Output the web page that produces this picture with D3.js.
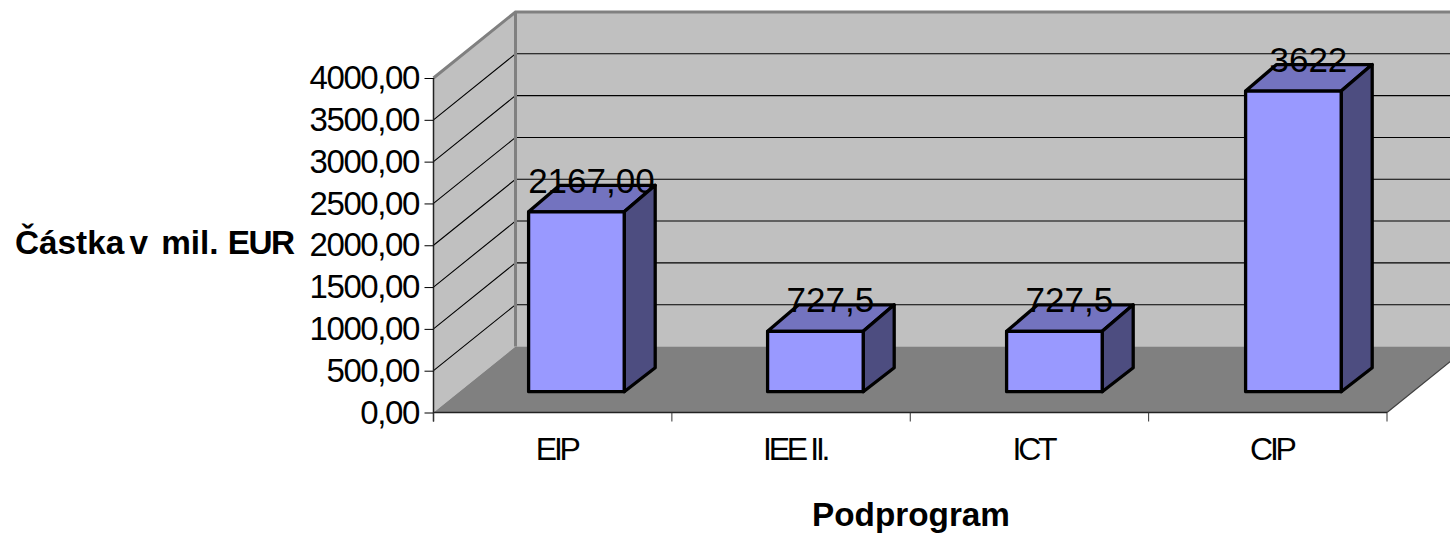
<!DOCTYPE html>
<html lang="en">

<head>
    <meta charset="UTF-8">
    <title>Podprogram</title>
    <script src="https://d3js.org/d3.v7.min.js"></script>
    <style>
        body { margin: 0; background: #fff; }
        svg { display: block; }
        text { font-family: "Liberation Sans", Arial, sans-serif; fill: #000; }
        .y-axis .tick text { font-size: 33px; letter-spacing: -1.4px; }
        .x-axis .tick text { font-size: 32px; letter-spacing: -3.3px; }
        .axis-title { font-size: 33.3px; font-weight: bold; }
        .value { font-size: 35px; }
    </style>
</head>

<body>
    <svg id="chart" width="1450" height="534"></svg>

    <script>
        const categories = ["EIP", "IEE II.", "ICT", "CIP"];
        const barValues = [2167, 727.5, 727.5, 3622];
        const valueLabels = ["2167,00", "727,5", "727,5", "3622"];
        const yTicks = [0, 500, 1000, 1500, 2000, 2500, 3000, 3500, 4000];
        const yTickLabels = ["0,00", "500,00", "1000,00", "1500,00", "2000,00", "2500,00", "3000,00", "3500,00", "4000,00"];

        const svg = d3.select("#chart");

        // front plane of the 3d box
        const plotLeft = 433.5, plotRight = 1387, plotBottom = 412.5, plotTop = 78;
        // offset of the back wall
        const depthX = 82, depthY = -66;
        // bar depth, the top edge comes out a bit steeper than the bottom one
        const barDepthX = 31, barDepthTop = -26.5, barDepthBottom = -24;

        const x = d3.scaleBand().domain(categories).range([plotLeft, plotRight]);
        const y = d3.scaleLinear().domain([0, 4000]).range([plotBottom, plotTop]);
        // bars stand further back on the floor so they get their own scales
        const barX = d3.scaleBand().domain(categories).range([456.9, 1412.9]).paddingInner(0.6).paddingOuter(0.3);
        const barY = d3.scaleLinear().domain([0, 4000]).range([391.7, 59.7]);
        const line = d3.line();

        const yTop = y(4000), yBase = y(0);

        // back wall
        svg.append("path")
            .attr("d", line([[plotLeft + depthX, yBase + depthY], [plotRight + depthX, yBase + depthY], [plotRight + depthX, yTop + depthY], [plotLeft + depthX, yTop + depthY]]) + "Z")
            .attr("fill", "#c0c0c0");

        // side wall
        svg.append("path")
            .attr("d", line([[plotLeft, yBase], [plotLeft + depthX, yBase + depthY], [plotLeft + depthX, yTop + depthY], [plotLeft, yTop]]) + "Z")
            .attr("fill", "#c0c0c0");

        // floor
        svg.append("path")
            .attr("d", line([[plotLeft, yBase], [plotLeft + depthX, yBase + depthY], [plotRight + depthX, yBase + depthY], [plotRight, yBase]]) + "Z")
            .attr("fill", "#808080");

        // gridlines, skipping the floor and the top edge
        yTicks.filter(d => d > 0 && d < 4000).forEach(d => {
            svg.append("path")
                .attr("d", line([[plotLeft, y(d)], [plotLeft + depthX, y(d) + depthY], [plotRight + depthX, y(d) + depthY]]))
                .attr("fill", "none")
                .attr("stroke", "#000")
                .attr("stroke-width", 1.1);
        });

        // gray edges of the walls
        svg.append("path")
            .attr("d", line([[plotLeft, yTop], [plotLeft + depthX, yTop + depthY], [plotRight + depthX, yTop + depthY]]))
            .attr("fill", "none")
            .attr("stroke", "#808080")
            .attr("stroke-width", 3);
        svg.append("path")
            .attr("d", line([[plotLeft + depthX, yTop + depthY], [plotLeft + depthX, yBase + depthY]]))
            .attr("fill", "none")
            .attr("stroke", "#808080")
            .attr("stroke-width", 3);
        svg.append("path")
            .attr("d", line([[plotRight, yBase], [plotRight + depthX, yBase + depthY]]))
            .attr("fill", "none")
            .attr("stroke", "#404040")
            .attr("stroke-width", 1.2);

        // bars
        const bars = svg.append("g").selectAll("g")
            .data(categories.map((c, i) => ({ c, v: barValues[i], label: valueLabels[i] })))
            .enter().append("g")
            .attr("stroke", "#000")
            .attr("stroke-width", 3.3)
            .attr("stroke-linejoin", "round");

        const bx0 = d => barX(d.c);
        const bx1 = d => barX(d.c) + barX.bandwidth();
        const by0 = barY(0);
        const by1 = d => barY(d.v);

        bars.append("path")
            .attr("fill", "#7373bf")
            .attr("d", d => line([[bx0(d), by1(d)], [bx0(d) + barDepthX, by1(d) + barDepthTop], [bx1(d) + barDepthX, by1(d) + barDepthTop], [bx1(d), by1(d)]]) + "Z");
        bars.append("path")
            .attr("fill", "#4d4d80")
            .attr("d", d => line([[bx1(d), by1(d)], [bx1(d) + barDepthX, by1(d) + barDepthTop], [bx1(d) + barDepthX, by0 + barDepthBottom], [bx1(d), by0]]) + "Z");
        bars.append("path")
            .attr("fill", "#9999ff")
            .attr("d", d => line([[bx0(d), by1(d)], [bx1(d), by1(d)], [bx1(d), by0], [bx0(d), by0]]) + "Z");

        bars.append("text")
            .attr("class", "value")
            .attr("stroke", "none")
            .attr("text-anchor", "middle")
            .attr("x", d => (bx0(d) + bx1(d)) / 2 + 15)
            .attr("y", d => by1(d) - 19)
            .text(d => d.label);

        // value axis
        const yAxis = svg.append("g")
            .attr("class", "y-axis")
            .attr("transform", `translate(${plotLeft},0)`)
            .call(d3.axisLeft(y).tickValues(yTicks).tickSize(9).tickPadding(5.5)
                .tickFormat(d => yTickLabels[yTicks.indexOf(d)]));
        yAxis.attr("font-family", null).attr("font-size", null);
        yAxis.select(".domain").attr("d", `M0,${plotTop}V${plotBottom + 9}`).attr("stroke", "#222").attr("stroke-width", 1.5);
        yAxis.selectAll(".tick line").attr("stroke", "#000");

        // category axis, ticks at band edges
        const xAxis = svg.append("g")
            .attr("class", "x-axis")
            .attr("transform", `translate(0,${plotBottom})`)
            .call(d3.axisBottom(x).tickSize(0).tickPadding(24.3));
        xAxis.attr("font-family", null).attr("font-size", null);
        xAxis.select(".domain").attr("d", `M${plotLeft},0H${plotRight}`).attr("stroke", "#222").attr("stroke-width", 1.3);
        xAxis.selectAll(".tick text").attr("dx", 4);
        xAxis.selectAll(".edge")
            .data(categories.concat("end"))
            .enter().append("line")
            .attr("class", "edge")
            .attr("x1", (d, i) => plotLeft + i * x.bandwidth())
            .attr("x2", (d, i) => plotLeft + i * x.bandwidth())
            .attr("y1", 0)
            .attr("y2", 9)
            .attr("stroke", "#333");

        // axis titles, the spacing between words is uneven in the original
        const yTitle = svg.append("text")
            .attr("class", "axis-title")
            .attr("x", 15)
            .attr("y", 254);
        yTitle.append("tspan").attr("word-spacing", "-4px").text("Částka v ");
        yTitle.append("tspan").attr("dx", 8).text("mil. ");
        yTitle.append("tspan").attr("letter-spacing", "-1.5px").text("EUR");
        svg.append("text")
            .attr("class", "axis-title")
            .attr("text-anchor", "middle")
            .attr("x", 911)
            .attr("y", 526)
            .text("Podprogram");
    </script>

</body>

</html>
